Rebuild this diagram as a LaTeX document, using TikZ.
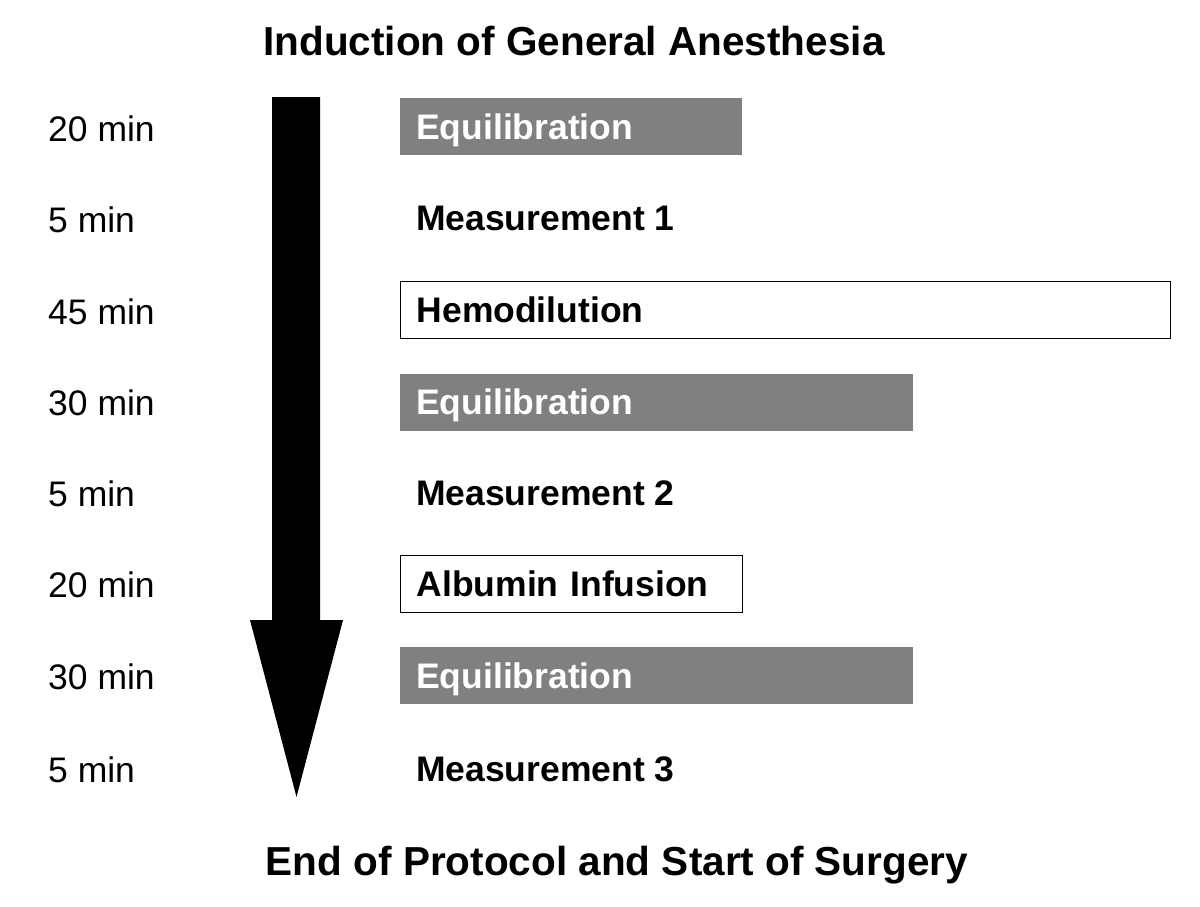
\documentclass[tikz,border=0pt]{standalone}
\usepackage{fontspec}
\setmainfont{Liberation Sans}
\usepackage{tikz}
\usetikzlibrary{positioning}
\definecolor{stepgray}{RGB}{128,128,128}
\tikzset{
  stepnode/.style = {anchor=west, inner xsep=16pt, inner ysep=0pt,
    text height=25.4pt, text depth=0pt, align=left,
    font=\fontsize{35.5}{40}\selectfont\bfseries},
  gray_box/.style = {stepnode, fill=stepgray, text=white,
    minimum height=57pt},% equilibration
  white_box/.style = {stepnode, draw=black, line width=1.3pt, fill=white,
    minimum height=57pt},% hemodilution, albumin
  plain_step/.style = {stepnode},% measurement
  time_label/.style = {anchor=west, inner sep=0pt, text height=25.4pt,
    text depth=0pt, font=\fontsize{35.5}{40}\selectfont},
  head_label/.style = {inner sep=0pt, text height=29pt, text depth=0pt,
    font=\fontsize{40.5}{45}\selectfont\bfseries}
}

\begin{document}
\begin{tikzpicture}[x=1pt, y=-1pt]
  \useasboundingbox (0,0) rectangle (1200,906);
  % titles
  \node [head_label] (start) at (574,41) {Induction of General Anesthesia};
  \node [head_label] (stop) at (617,861) {End of Protocol and Start of Surgery};
  % time arrow
  \coordinate (arrowtop) at (296,97);
  \coordinate (arrowtip) at (296.5,797);
  \fill [black] ([xshift=-24pt]arrowtop) -- ([xshift=24pt]arrowtop)
    -- ([xshift=24pt]arrowtop |- 0,620) -- (343,620) -- (arrowtip)
    -- (250,620) -- ([xshift=-24pt]arrowtop |- 0,620) -- cycle;
  % steps
  \node [gray_box, text width=310pt] (equi1) at (400,126.5) {Equilibration};
  \node [plain_step] (meas1) at (400,218) {Measurement 1};
  \node [white_box, text width=738pt] (hemo) at (400,310) {Hemodilution};
  \node [gray_box, text width=481pt] (equi2) at (400,402) {Equilibration};
  \node [plain_step] (meas2) at (400,493) {Measurement 2};
  \node [white_box, text width=310pt] (albu) at (400,584) {Albumin Infusion};
  \node [gray_box, text width=481pt] (equi3) at (400,675.5) {Equilibration};
  \node [plain_step] (meas3) at (400,769) {Measurement 3};
  % durations
  \node [time_label] (t1) at (48,129) {20 min};
  \node [time_label] (t2) at (48,220) {5 min};
  \node [time_label] (t3) at (48,311.5) {45 min};
  \node [time_label] (t4) at (48,403) {30 min};
  \node [time_label] (t5) at (48,494) {5 min};
  \node [time_label] (t6) at (48,585) {20 min};
  \node [time_label] (t7) at (48,677) {30 min};
  \node [time_label] (t8) at (48,770) {5 min};
\end{tikzpicture}
\end{document}
